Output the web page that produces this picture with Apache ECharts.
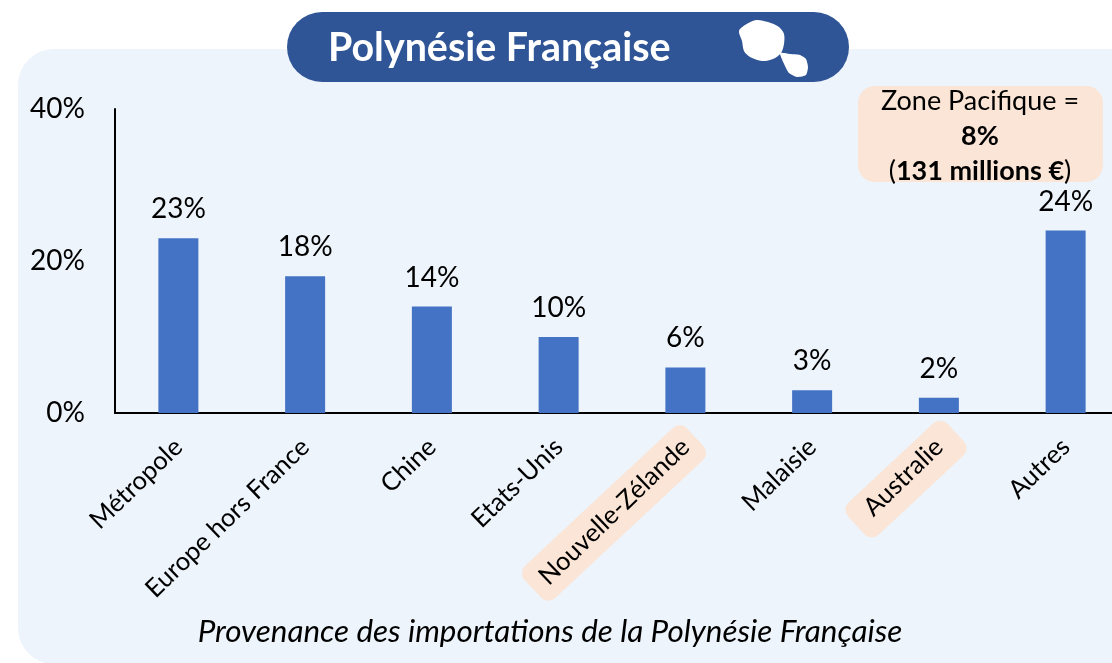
<!DOCTYPE html>
<html>
<head>
<meta charset="utf-8">
<style>
  html, body { margin: 0; padding: 0; background: #fff; overflow: hidden; }
  #main { width: 1112px; height: 663px; }
</style>
<script src="https://cdn.jsdelivr.net/npm/echarts@6/dist/echarts.min.js"></script>
</head>
<body>
<div id="main"></div>
<script>
var categories = ['Métropole', 'Europe hors France', 'Chine', 'Etats-Unis', 'Nouvelle-Zélande', 'Malaisie', 'Australie', 'Autres'];
var values = [23, 18, 14, 10, 6, 3, 2, 24];
var yTicks = [0, 20, 40];

var font = 'Lato, "Noto Sans", sans-serif';
var pillAngle = 43 * Math.PI / 180;
var myChart = echarts.init(document.getElementById('main'), null, { renderer: 'canvas' });

myChart.setOption({
  animation: false,
  backgroundColor: '#fff',
  textStyle: { fontFamily: font, color: '#000' },
  grid: { left: 115, top: 109, width: 1014, height: 304, containLabel: false, outerBoundsMode: 'none' },
  xAxis: {
    type: 'category',
    data: categories,
    axisTick: { show: false },
    axisLine: { onZero: false, lineStyle: { color: '#000', width: 2 } },
    axisLabel: {
      interval: 0,
      rotate: 44,
      margin: 30,
      fontSize: 25.5,
      fontFamily: font,
      color: '#000'
    }
  },
  yAxis: {
    type: 'value',
    min: yTicks[0],
    max: yTicks[yTicks.length - 1],
    interval: yTicks[1] - yTicks[0],
    splitLine: { show: false },
    axisTick: { show: false },
    axisLine: { show: true, lineStyle: { color: '#000', width: 2 } },
    axisLabel: { margin: 30, fontSize: 28, fontFamily: font, color: '#000', formatter: '{value}%' }
  },
  series: [{
    type: 'bar',
    data: values,
    barWidth: 40,
    itemStyle: { color: '#4472C4' },
    z: 3,
    label: {
      show: true,
      position: 'top',
      distance: 15,
      fontSize: 28,
      fontFamily: font,
      color: '#000',
      formatter: '{c}%'
    }
  }],
  graphic: [
    // panel behind the plot
    { type: 'rect', z: -10, shape: { x: 18, y: 49, width: 1160, height: 615, r: 36 }, style: { fill: '#EDF4FB' } },
    // pills behind the two pacific labels
    { type: 'rect', z: -5, x: 614, y: 513, rotation: pillAngle, shape: { x: -111, y: -22, width: 222, height: 44, r: 10 }, style: { fill: '#FBE5D6' } },
    { type: 'rect', z: -5, x: 906, y: 479, rotation: pillAngle, shape: { x: -68, y: -22, width: 136, height: 44, r: 10 }, style: { fill: '#FBE5D6' } },
    // title pill
    { type: 'rect', z: 10, shape: { x: 287, y: 12, width: 562, height: 70, r: 35 }, style: { fill: '#2F5597' } },
    { type: 'text', z: 11, x: 328, y: 48, style: { text: 'Polynésie Française', fill: '#fff', font: 'bold 39.4px ' + font, textVerticalAlign: 'middle' } },
    // island icon
    { type: 'polygon', z: 11, shape: { smooth: 0.3, points: [[756, 20], [768, 22], [779, 27], [784, 34], [784, 44], [781, 53], [773, 59], [762, 61], [750, 57], [744, 51], [742, 41], [739, 31], [745, 25]] }, style: { fill: '#fff' } },
    { type: 'polygon', z: 11, style: { fill: '#fff' }, shape: { smooth: 0.2, points: [[780, 53], [790, 54], [800, 55], [806, 59], [808, 67], [806, 75], [797, 77], [789, 73], [785, 66]] } },
    // pacific callout
    { type: 'rect', z: 1, shape: { x: 858, y: 86, width: 245, height: 96, r: 17 }, style: { fill: '#FBE5D6' } },
    { type: 'text', z: 4, x: 980, y: 101, style: { text: 'Zone Pacifique =', fill: '#000', font: '27px ' + font, textAlign: 'center', textVerticalAlign: 'middle' } },
    { type: 'text', z: 4, x: 980, y: 136, style: { text: '8%', fill: '#000', font: 'bold 27px ' + font, textAlign: 'center', textVerticalAlign: 'middle' } },
    {
      type: 'text', z: 4, x: 980, y: 171,
      style: {
        text: '{n|(}{b|131 millions €}{n|)}',
        textAlign: 'center',
        textVerticalAlign: 'middle',
        rich: {
          n: { font: '27px ' + font, fill: '#000' },
          b: { font: 'bold 27px ' + font, fill: '#000' }
        }
      }
    },
    // caption
    { type: 'text', z: 4, x: 550, y: 632, style: { text: 'Provenance des importations de la Polynésie Française', fill: '#000', font: 'italic 31.4px ' + font, textAlign: 'center', textVerticalAlign: 'middle' } }
  ]
});
</script>
</body>
</html>
